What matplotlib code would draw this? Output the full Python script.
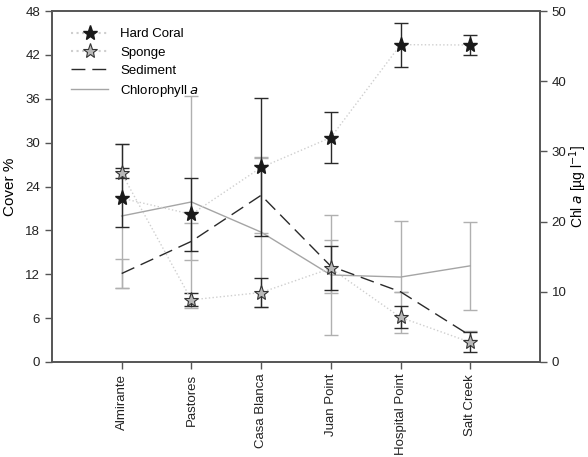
import numpy as np
import matplotlib
matplotlib.use("Agg")
import matplotlib.pyplot as plt
from matplotlib.lines import Line2D

plt.rcParams["font.family"] = ["Liberation Sans", "DejaVu Sans"]

# ── Data ──────────────────────────────────────────────────────────────────────
sites = ["Almirante", "Pastores", "Casa Blanca", "Juan Point", "Hospital Point", "Salt Creek"]

coral = [22.4, 20.2, 26.6, 30.7, 43.4, 43.35]
coral_lo = [3.9, 5.0, 9.4, 3.5, 3.0, 1.35]
coral_hi = [7.4, 5.0, 9.5, 3.5, 3.0, 1.35]

sponge = [25.8, 8.5, 9.5, 12.8, 6.1, 2.7]
sponge_err = [0.7, 0.9, 2.0, 3.0, 1.5, 1.4]

sediment = [12.1, 16.5, 22.8, 13.1, 9.6, 3.6]
sediment_err = [2.0, 2.5, 5.1, 3.6, 0.0, 0.6]

chl = [20.8, 22.8, 18.5, 12.4, 12.1, 13.7]
chl_err = [10.2, 15.1, 10.7, 8.5, 8.0, 6.3]

x = np.arange(1, len(sites) + 1)

# ── Figure ────────────────────────────────────────────────────────────────────
fig = plt.figure(figsize=(5.88, 4.57), dpi=100)
ax = fig.add_axes([0.0884, 0.2079, 0.8299, 0.7680])
ax2 = ax.twinx()

spine_col = "#555555"
dark = "#2a2a2a"
light = "#b0b0b0"

# right axis: chlorophyll a
ax2.errorbar(x, chl, yerr=chl_err, fmt="none", ecolor=light, elinewidth=1.0,
             capsize=5, capthick=1.0, zorder=1)
ax2.plot(x, chl, color="#a5a5a5", lw=1.0, zorder=2)

# left axis drawn above the twin
ax.set_zorder(ax2.get_zorder() + 1)
ax.patch.set_visible(False)

ax.errorbar(x, sediment, yerr=sediment_err, fmt="none", ecolor=light, elinewidth=1.0,
            capsize=5, capthick=1.0, zorder=1)
ax.plot(x, sediment, color=dark, lw=1.0, dashes=(10, 5), zorder=3)

ax.errorbar(x, coral, yerr=[coral_lo, coral_hi], fmt="none", ecolor=dark, elinewidth=1.0,
            capsize=5, capthick=1.0, zorder=2)
ax.errorbar(x, sponge, yerr=sponge_err, fmt="none", ecolor=dark, elinewidth=1.0,
            capsize=5, capthick=1.0, zorder=2)

ax.plot(x, coral, color="#cfcfcf", lw=1.0, ls=":", zorder=3)
ax.plot(x, sponge, color="#cfcfcf", lw=1.0, ls=":", zorder=3)
ax.plot(x, coral, ls="none", marker="*", ms=11, mfc="#1a1a1a", mec="#1a1a1a", zorder=5)
ax.plot(x, sponge, ls="none", marker="*", ms=11, mfc="#b8b8b8", mec="#333333",
        mew=0.8, zorder=5)

# ── Axes styling ──────────────────────────────────────────────────────────────
ax.set_xlim(0, 7)
ax.set_ylim(0, 48)
ax2.set_ylim(0, 50)
ax.set_yticks(np.arange(0, 49, 6))
ax2.set_yticks(np.arange(0, 51, 10))
ax.set_xticks(x)
ax.set_xticklabels(sites, rotation=90, fontsize=9)

for a in (ax, ax2):
    for s in a.spines.values():
        s.set_color(spine_col)
        s.set_linewidth(1.2)
    a.tick_params(direction="out", length=5, width=1.0, color=spine_col,
                  labelsize=9.5, labelcolor="#222222")

ax.set_ylabel("Cover %", fontsize=11, labelpad=6)
ax2.set_ylabel("Chl $a$ [µg l$^{-1}$]", fontsize=10, va="center")
ax2.yaxis.set_label_coords(1.078, 0.5)

handles = [
    Line2D([], [], color="#cfcfcf", ls=":", marker="*", ms=11, mfc="#1a1a1a", mec="#1a1a1a"),
    Line2D([], [], color="#cfcfcf", ls=":", marker="*", ms=11, mfc="#b8b8b8", mec="#333333", mew=0.8),
    Line2D([], [], color=dark, lw=1.0, dashes=(10, 5)),
    Line2D([], [], color="#a5a5a5", lw=1.0),
]
labels = ["Hard Coral", "Sponge", "Sediment", "Chlorophyll $a$"]
ax.legend(handles, labels, loc="upper left", bbox_to_anchor=(0.015, 0.985), frameon=False,
          fontsize=9.5, handlelength=2.8, handletextpad=0.9, labelspacing=0.45)

fig.savefig("out.png", dpi=100)
